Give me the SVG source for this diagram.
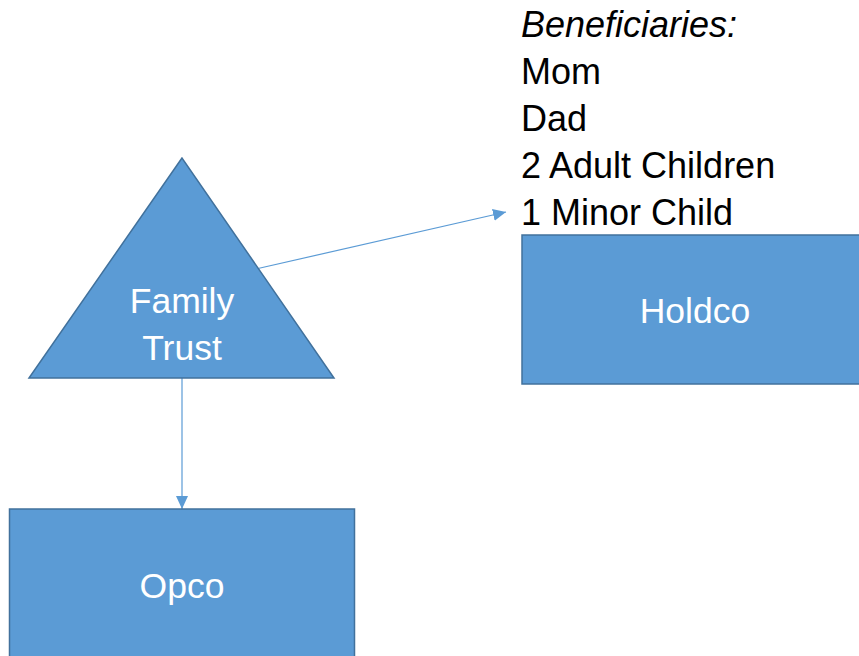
<svg xmlns="http://www.w3.org/2000/svg" width="859" height="656" viewBox="0 0 859 656">
<style>
.shape{fill:#5B9BD5;stroke:#41719C;stroke-width:1.5}
.lbl{font-family:"Liberation Sans",Arial,sans-serif;font-size:35.5px;fill:#FFFFFF;text-anchor:middle}
.ben{font-family:"Liberation Sans",Arial,sans-serif;font-size:36px;fill:#000000}
.conn{stroke:#5B9BD5;stroke-width:1.2;fill:none}
</style>
<defs>
<marker id="arr" markerUnits="userSpaceOnUse" markerWidth="14" markerHeight="12" refX="13" refY="6" orient="auto">
<path d="M0,0 L13,6 L0,12 Z" fill="#5B9BD5"/>
</marker>
</defs>
<rect width="859" height="656" fill="#FFFFFF"/>
<g id="connectors">
<line class="conn" x1="258" y1="268.5" x2="506" y2="212" marker-end="url(#arr)"/>
<line class="conn" x1="182" y1="378" x2="182" y2="509" marker-end="url(#arr)"/>
</g>
<g id="trust">
<polygon class="shape" points="182,158 29,378 334,378"/>
<text class="lbl" x="182" y="313">Family</text>
<text class="lbl" x="182" y="360">Trust</text>
</g>
<g id="beneficiaries">
<text class="ben" x="521" y="37" font-style="italic">Beneficiaries:</text>
<text class="ben" x="521" y="84">Mom</text>
<text class="ben" x="521" y="131">Dad</text>
<text class="ben" x="521" y="178">2 Adult Children</text>
<text class="ben" x="521" y="225">1 Minor Child</text>
</g>
<g id="holdco">
<rect class="shape" x="522" y="235" width="346" height="149"/>
<text class="lbl" x="695" y="323">Holdco</text>
</g>
<g id="opco">
<rect class="shape" x="9.5" y="509" width="345" height="160"/>
<text class="lbl" x="182" y="598">Opco</text>
</g>
</svg>
